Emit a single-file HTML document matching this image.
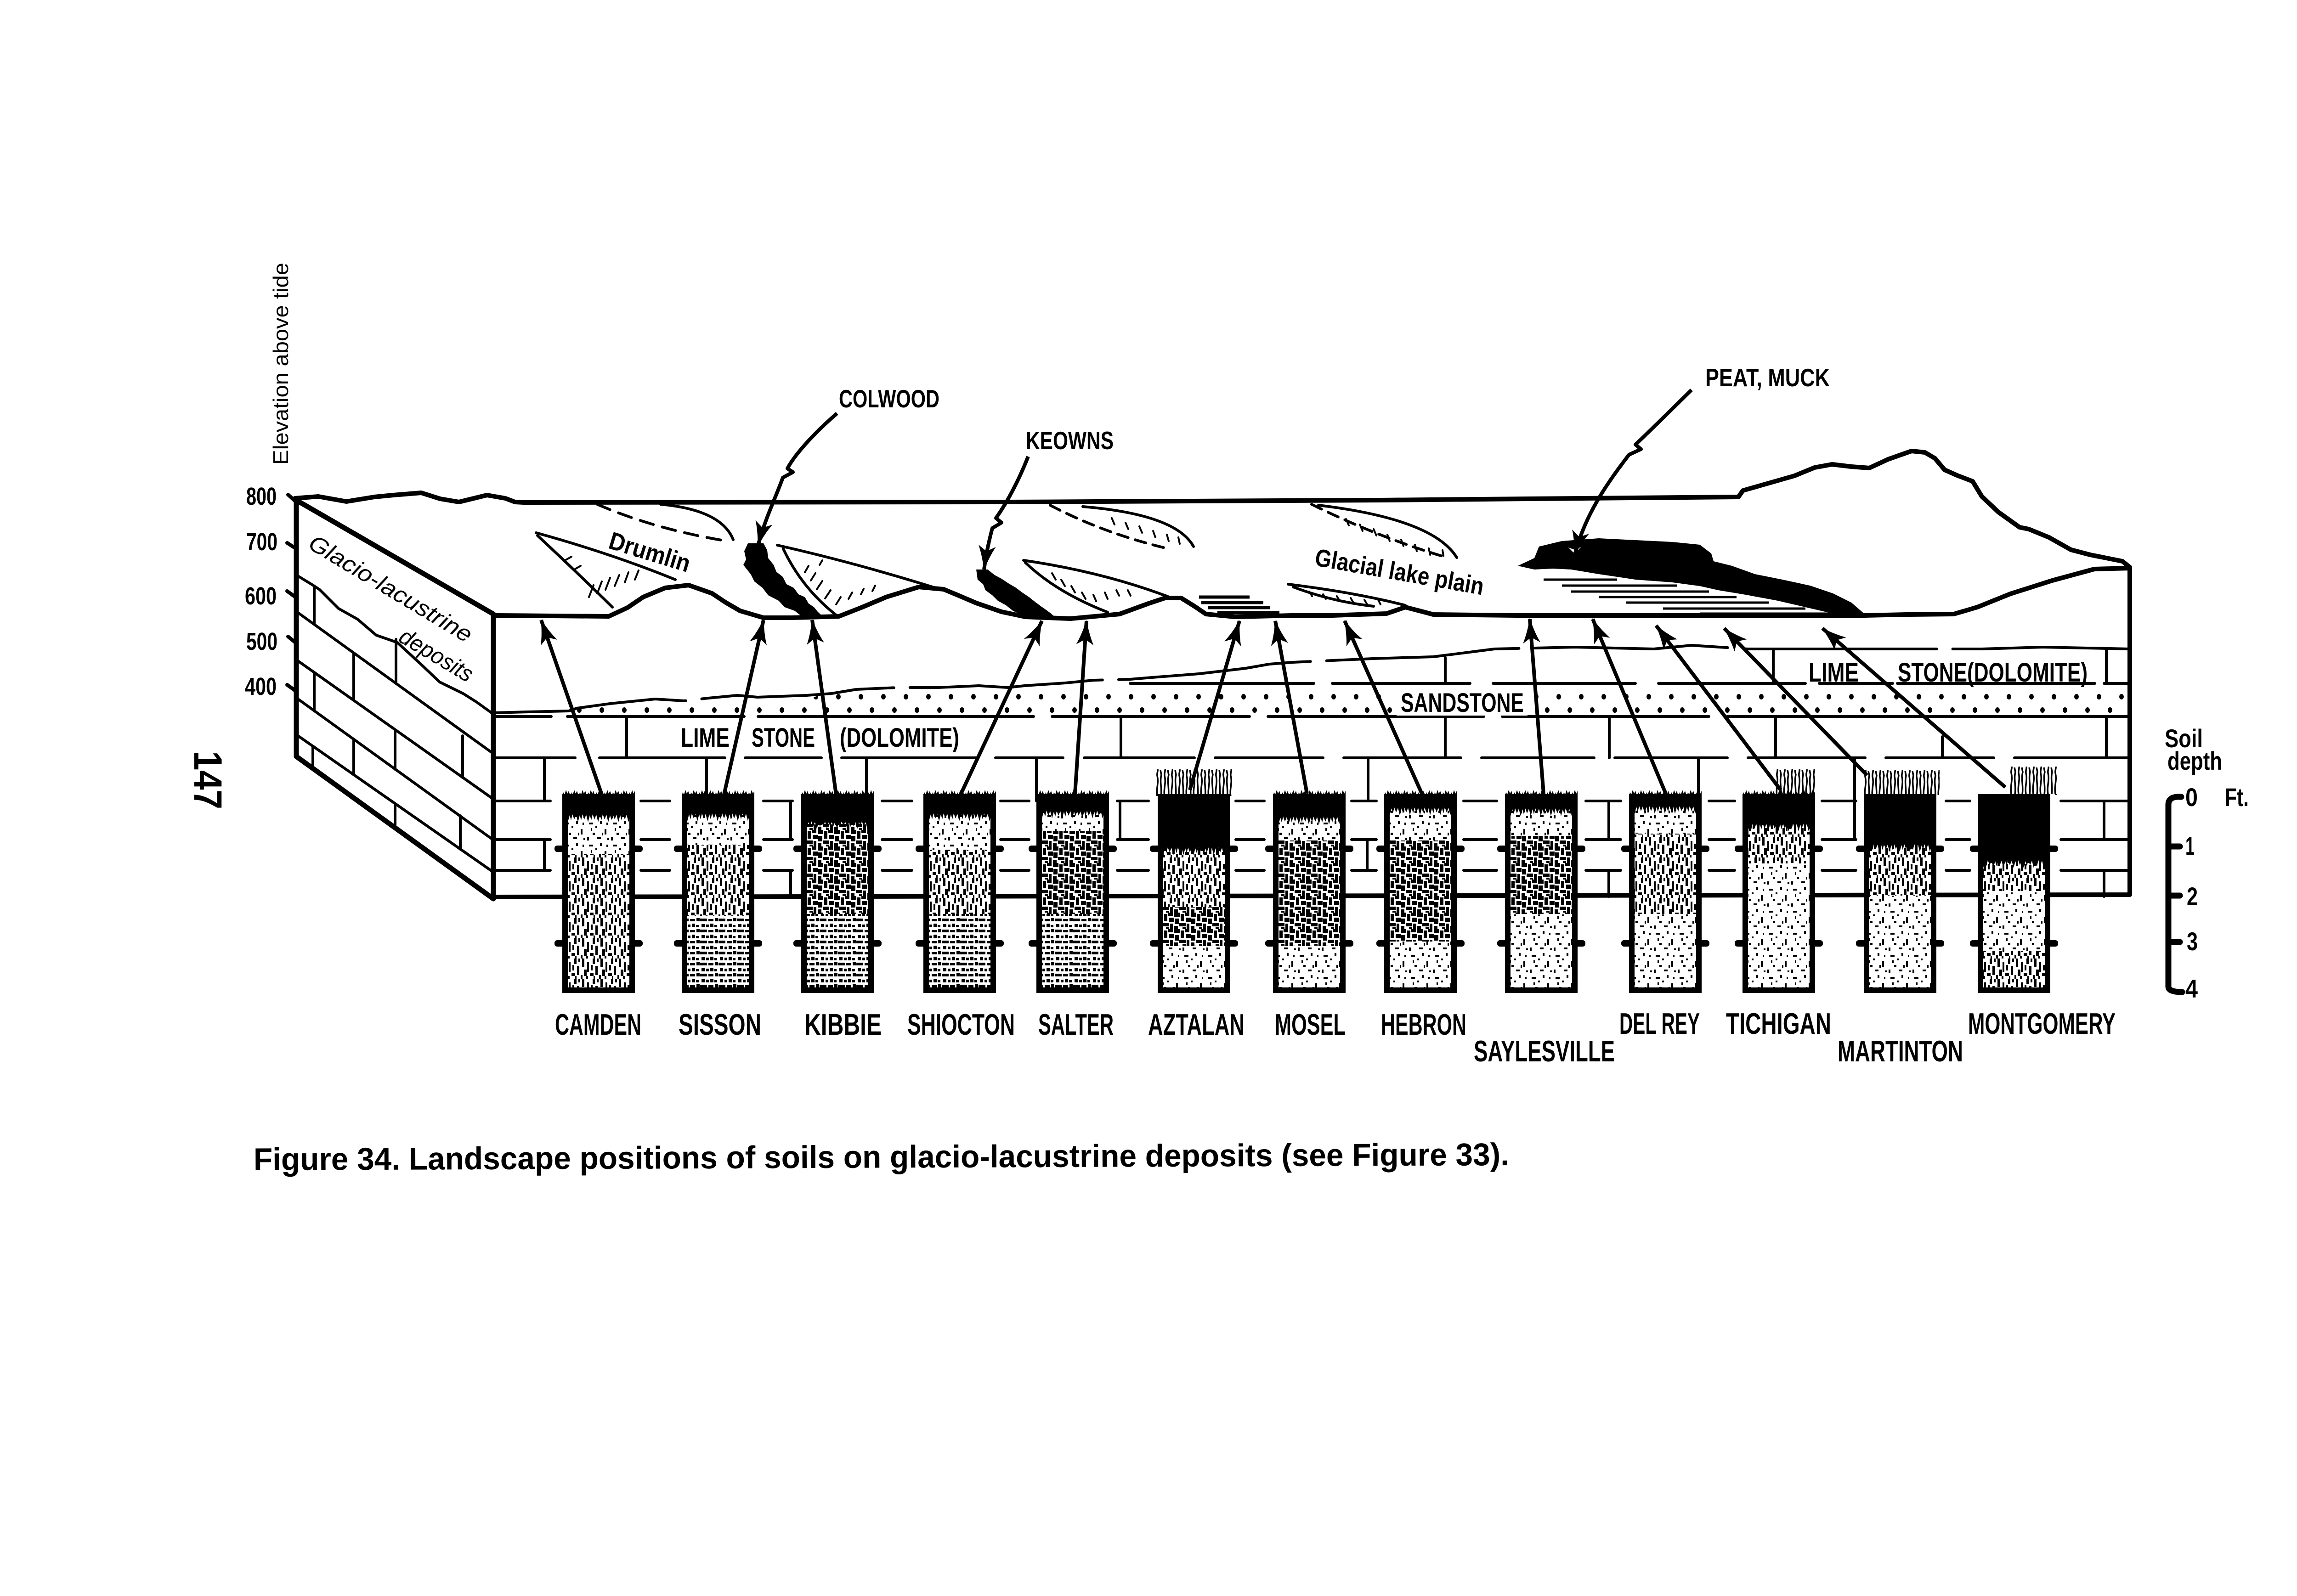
<!DOCTYPE html>
<html><head><meta charset="utf-8"><title>Figure 34</title>
<style>html,body{margin:0;padding:0;background:#fff}svg{display:block}</style>
</head><body>
<svg xmlns="http://www.w3.org/2000/svg" width="5331" height="3475" viewBox="0 0 5331 3475" font-family="'Liberation Sans', sans-serif">
<defs>
<pattern id="sp" width="52" height="48" patternUnits="userSpaceOnUse"><path d="M6 8h9v4h-9zM30 4h4v7h-4zM40 22h4v12h-4zM14 30h5v5h-5zM24 40h8v4h-8zM46 42h4v4h-4zM20 16h4v4h-4zM2 40h4v7h-4zM34 30h3v6h-3zM10 20h3v6h-3zM44 8h3v5h-3z"/></pattern>
<pattern id="md" width="40" height="44" patternUnits="userSpaceOnUse"><path d="M3 0h5v18h-5zM14 8h4v22h-4zM26 0h5v12h-5zM32 16h5v20h-5zM7 24h6v14h-6zM20 32h8v6h-8zM0 36h4v8h-4zM22 14h4v12h-4zM12 38h4v6h-4zM35 0h4v8h-4zM28 38h3v6h-3z"/></pattern>
<pattern id="dn" width="36" height="36" patternUnits="userSpaceOnUse"><path d="M0 0h12v9h-12zM14 3h7v16h-7zM23 0h10v7h-10zM25 11h11v9h-11zM1 13h9v12h-9zM11 23h14v7h-14zM27 24h6v12h-6zM0 29h8v7h-8zM18 32h7v4h-7z"/></pattern>
<pattern id="bd" width="40" height="24" patternUnits="userSpaceOnUse"><path d="M0 1h15v6h-15zM18 2h11v5h-11zM32 0h7v7h-7zM3 13h7v7h-7zM13 14h6v6h-6zM22 12h7v8h-7zM31 15h6v5h-6z"/></pattern>
<pattern id="tt" width="22" height="22" patternUnits="userSpaceOnUse"><path d="M0,0 H22 V3 L19,16 L16,5 L12,20 L8,4 L4,14 L0,3 Z"/></pattern>
<pattern id="fr" width="18" height="16" patternUnits="userSpaceOnUse"><path d="M0,16 L2,6 L5,11 L8,1 L11,9 L14,3 L18,16 Z"/></pattern>
<pattern id="gr" width="16" height="60" patternUnits="userSpaceOnUse"><path d="M3,60 C0,42 7,30 3,14 C2,8 5,4 4,0 M11,60 C14,44 8,28 12,12 L10,2" stroke="#000" stroke-width="3.5" fill="none"/></pattern>
<pattern id="dots" width="49" height="58" patternUnits="userSpaceOnUse"><ellipse cx="12" cy="12" rx="5" ry="6"/><ellipse cx="36" cy="41" rx="5" ry="6"/></pattern>
<marker id="ah" markerUnits="userSpaceOnUse" viewBox="-56 -24 62 48" markerWidth="62" markerHeight="48" refX="0" refY="0" orient="auto" overflow="visible">
<path d="M2,0 C-14,-4 -34,-10 -52,-19 L-40,0 L-52,19 C-34,10 -14,4 2,0 Z"/>
</marker>
</defs>

<!-- Elevation axis -->
<text transform="translate(627,792) rotate(-90)" text-anchor="middle" font-size="46" textLength="440" lengthAdjust="spacingAndGlyphs">Elevation above tide</text>
<g font-size="54" font-weight="bold">
<text x="536" y="1099" textLength="66" lengthAdjust="spacingAndGlyphs">800</text>
<text x="536" y="1198" textLength="68" lengthAdjust="spacingAndGlyphs">700</text>
<text x="533" y="1316" textLength="69" lengthAdjust="spacingAndGlyphs">600</text>
<text x="536" y="1415" textLength="68" lengthAdjust="spacingAndGlyphs">500</text>
<text x="533" y="1513" textLength="69" lengthAdjust="spacingAndGlyphs">400</text>
</g>
<path d="M627,1077 L648,1096 M625,1182 L645,1195 M625,1287 L643,1300 M627,1386 L643,1399 M625,1491 L643,1504" stroke="#000" stroke-width="8" stroke-linecap="round" fill="none"/>

<!-- page number -->
<text transform="translate(423,1635) rotate(90)" font-size="86" font-weight="bold" textLength="127" lengthAdjust="spacingAndGlyphs">147</text>

<!-- left face -->
<g stroke="#000" fill="none" stroke-linecap="round" stroke-linejoin="round">
<polyline stroke-width="6" points="650,1255 681,1274 696,1284 737,1325 778,1348 819,1383 865,1399 916,1446 957,1485 1008,1510 1038,1529 1074,1555"/>
<path stroke-width="6" d="M650,1335 L1074,1641 M650,1440 L1074,1740 M650,1523 L1074,1829 M650,1603 L1074,1899"/>
<path stroke-width="6" d="M684,1278 V1359 M862,1392 V1488 M770,1422 V1525 M1007,1602 V1693 M684,1464 V1548 M860,1589 V1675 M770,1610 V1687 M1002,1776 V1849 M681,1625 V1673 M860,1750 V1802"/>
<path stroke-width="11" d="M645,1089 L1074,1337 L1074,1957 L645,1647 Z"/>
</g>
<text transform="translate(668,1192) rotate(31)" font-size="50" font-style="italic" textLength="405" lengthAdjust="spacingAndGlyphs">Glacio-lacustrine</text>
<text transform="translate(865,1395) rotate(31)" font-size="50" font-style="italic" textLength="178" lengthAdjust="spacingAndGlyphs">deposits</text>

<!-- skyline / horizon / hill -->
<polyline fill="none" stroke="#000" stroke-width="10" stroke-linejoin="round" stroke-linecap="round" points="642,1085 693,1081 754,1092 815,1082 856,1078 917,1073 958,1086 999,1093 1060,1078 1100,1085 1121,1093 1140,1094 2200,1093 3000,1089 3784,1082 3794,1068 3850,1052 3906,1036 3950,1018 3988,1011 4030,1016 4069,1019 4110,1000 4161,982 4190,985 4212,998 4233,1023 4260,1035 4294,1048 4314,1081 4350,1115 4396,1148 4416,1152 4460,1170 4508,1197 4550,1208 4580,1214 4620,1222 4636,1235"/>

<!-- surface features: lenses -->
<g fill="none" stroke="#000" stroke-linecap="round">
<path stroke-width="6" d="M1167,1160 Q1330,1205 1470,1262"/>
<path stroke-width="6" d="M1170,1166 Q1260,1250 1333,1322"/>
<path stroke-width="4" d="M1282,1300 l10,-26 M1300,1292 l10,-26 M1318,1284 l10,-26 M1338,1276 l10,-24 M1360,1268 l8,-22 M1382,1262 l8,-20 M1230,1220 l14,-8 M1250,1240 l14,-8"/>
<path stroke-width="6" stroke-dasharray="30 20" d="M1300,1098 Q1420,1150 1570,1176"/>
<path stroke-width="6" d="M1438,1098 Q1570,1110 1596,1175"/>
<path stroke-width="6" d="M1692,1187 Q1860,1225 2036,1280"/>
<path stroke-width="6" d="M1705,1195 Q1745,1280 1821,1340"/>
<path stroke-width="4" d="M1760,1232 l-8,14 M1775,1248 l-10,16 M1790,1265 l-12,18 M1808,1285 l-12,18 M1830,1300 l-10,16 M1855,1290 l-8,14 M1880,1282 l-6,12 M1905,1275 l-6,12 M1790,1220 l-6,10"/>
<path stroke-width="6" d="M2228,1220 Q2400,1245 2545,1300"/>
<path stroke-width="6" d="M2232,1225 Q2300,1290 2411,1333"/>
<path stroke-width="4" d="M2290,1248 l8,14 M2310,1262 l8,14 M2332,1276 l8,14 M2355,1290 l8,14 M2380,1295 l6,14 M2405,1290 l6,14 M2430,1285 l6,12 M2455,1285 l6,12"/>
<path stroke-width="6" stroke-dasharray="24 16" d="M2286,1100 Q2400,1160 2536,1193"/>
<path stroke-width="6" d="M2357,1103 Q2560,1120 2598,1190"/>
<path stroke-width="4" d="M2420,1128 l6,14 M2450,1138 l6,14 M2480,1146 l6,14 M2510,1156 l5,14 M2540,1164 l4,14 M2565,1170 l3,14"/>
<path stroke-width="6" stroke-dasharray="24 16" d="M2855,1098 Q3000,1170 3150,1214"/>
<path stroke-width="6" d="M2870,1100 Q3120,1130 3171,1214"/>
<path stroke-width="4" d="M2930,1130 l6,14 M2960,1142 l6,14 M2990,1152 l6,14 M3020,1164 l5,14 M3050,1175 l5,14 M3080,1186 l4,14 M3110,1194 l3,14 M3140,1198 l2,12"/>
<path stroke-width="6" d="M2804,1272 Q2950,1290 3059,1318"/>
<path stroke-width="6" d="M2815,1278 Q2900,1310 2990,1320"/>
<path stroke-width="4" d="M2850,1288 l6,10 M2880,1294 l6,10 M2910,1298 l6,10 M2940,1302 l6,10 M2970,1306 l6,10 M3000,1306 l5,10"/>
</g>

<!-- dark soil areas on surface -->
<polygon points="1628,1183 1620,1200 1624,1218 1618,1230 1634,1250 1642,1266 1660,1280 1672,1296 1695,1308 1708,1322 1730,1330 1750,1346 1795,1346 1780,1332 1772,1322 1760,1314 1752,1300 1738,1294 1728,1280 1712,1272 1704,1256 1690,1245 1684,1230 1672,1215 1670,1198 1662,1183"/>
<polygon points="2125,1240 2128,1262 2140,1272 2145,1285 2160,1296 2172,1308 2190,1318 2205,1330 2222,1338 2235,1347 2300,1347 2288,1336 2280,1330 2266,1320 2255,1312 2240,1300 2225,1290 2212,1280 2195,1270 2180,1260 2165,1252 2150,1240"/>
<path d="M2610,1300 H2720 M2615,1312 H2750 M2630,1323 H2765 M2650,1334 H2785" stroke="#000" stroke-width="7" fill="none"/>
<polygon points="3304,1232 3340,1215 3350,1190 3400,1178 3480,1172 3560,1176 3640,1180 3700,1186 3725,1205 3730,1222 3770,1232 3820,1250 3880,1262 3940,1275 3990,1292 4030,1312 4060,1338 3990,1336 3930,1322 3870,1308 3800,1295 3740,1285 3700,1276 3640,1268 3560,1262 3480,1250 3420,1240 3380,1238 3340,1240"/>
<path d="M3360,1262 H3520 M3400,1275 H3650 M3420,1288 H3720 M3480,1300 H3780 M3540,1312 H3850 M3620,1325 H3930 M3700,1336 H4000" stroke="#000" stroke-width="5" fill="none"/>
<path d="M3414,1192 L3428,1206 L3442,1190 L3430,1198 Z" fill="#fff"/>

<!-- front face strata -->
<g transform="translate(0,1505)"><polygon fill="url(#dots)" points="1250,31 1430,23 1610,20 1760,17 1800,3 2050,-2 2200,-3 2320,-11 2420,-11 4630,-9 4630,52 1250,52"/></g>
<g fill="none" stroke="#000" stroke-width="6" stroke-linecap="round" stroke-linejoin="round">
<polyline stroke-dasharray="420 35" points="1075,1552 1150,1550 1238,1548 1256,1542 1328,1532 1426,1522 1489,1526 1542,1520 1605,1514 1649,1518 1756,1514 1810,1510 1864,1501 1953,1497 2042,1497 2131,1493 2194,1497 2230,1493 2319,1487 2381,1481 2460,1479 2508,1475 2610,1467 2712,1455 2763,1446 2814,1442 2988,1434 3120,1430 3253,1413 3427,1409 3600,1413 3682,1405 3804,1413 4110,1413 4314,1413 4447,1409 4636,1413"/>
<path d="M2460,1488 H2860 M2900,1488 H3200 M3250,1488 H3560 M3610,1488 H3930 M3960,1488 H4120 M4130,1488 H4560 M4580,1488 H4636"/>
<path d="M1075,1560 H1200 M1235,1560 H1620 M1650,1560 H2250 M2290,1560 H2720 M2760,1560 H3230 M3270,1560 H3720 M3760,1560 H4636"/>
<path d="M1078,1650 H1252 M1305,1650 H1578 M1622,1650 H1788 M1832,1650 H2127 M2167,1650 H2314 M2360,1650 H2600 M2645,1650 H2880 M2925,1650 H3180 M3225,1650 H3470 M3515,1650 H3760 M3805,1650 H4060 M4105,1650 H4340 M4385,1650 H4636"/>
<path d="M1080,1744 H1198 M1395,1744 H1458 M1662,1744 H1725 M1920,1744 H1985 M2178,1744 H2240 M2432,1744 H2500 M2690,1744 H2752 M2942,1744 H2996 M3186,1744 H3258 M3452,1744 H3528 M3720,1744 H3776 M3966,1744 H4040 M4236,1744 H4288 M4486,1744 H4636"/>
<path d="M1080,1828 H1198 M1395,1828 H1458 M1662,1828 H1725 M1920,1828 H1985 M2178,1828 H2240 M2432,1828 H2500 M2690,1828 H2752 M2942,1828 H2996 M3186,1828 H3258 M3452,1828 H3528 M3720,1828 H3776 M3966,1828 H4040 M4236,1828 H4288 M4486,1828 H4636"/>
<path d="M1080,1895 H1198 M1395,1895 H1458 M1662,1895 H1725 M1920,1895 H1985 M2178,1895 H2240 M2432,1895 H2500 M2690,1895 H2752 M2942,1895 H2996 M3186,1895 H3258 M3452,1895 H3528 M3720,1895 H3776 M3966,1895 H4040 M4236,1895 H4288 M4486,1895 H4636"/>
<path d="M3146,1432 V1488 M3860,1413 V1488 M4585,1413 V1488 M1364,1560 V1650 M2440,1560 V1650 M3146,1560 V1650 M3503,1560 V1650 M3865,1560 V1650 M4228,1604 V1650 M4585,1560 V1650 M1185,1650 V1744 M1538,1650 V1744 M1886,1650 V1744 M2256,1650 V1744 M2978,1650 V1744 M3697,1650 V1744 M4037,1650 V1744 M1721,1744 V1828 M2438,1744 V1828 M3502,1744 V1828 M4037,1744 V1828 M4580,1744 V1828 M1185,1828 V1895 M2976,1828 V1895 M1721,1895 V1952 M3502,1895 V1952 M4580,1895 V1952"/>
</g>

<!-- front top edge, right edge, bottom -->
<polyline fill="none" stroke="#000" stroke-width="10" stroke-linejoin="round" stroke-linecap="round" points="1074,1340 1325,1342 1366,1323 1400,1300 1448,1280 1499,1274 1550,1292 1580,1312 1611,1330 1662,1345 1723,1345 1826,1342 1877,1322 1929,1300 2000,1278 2054,1283 2090,1298 2125,1313 2180,1332 2232,1343 2330,1347 2437,1337 2500,1314 2536,1302 2571,1302 2600,1320 2625,1337 2688,1343 2814,1340 2900,1340 3018,1336 3059,1322 3090,1330 3120,1338 3300,1340 4059,1340 4151,1338 4253,1337 4304,1322 4376,1293 4467,1264 4559,1239 4636,1237 4636,1948 1074,1953"/>

<!-- labels in strata -->
<rect x="3040" y="1500" width="285" height="58" fill="#fff"/>
<g font-size="58" font-weight="bold">
<text x="3049" y="1550" textLength="268" lengthAdjust="spacingAndGlyphs">SANDSTONE</text>
<text x="1482" y="1626" textLength="106" lengthAdjust="spacingAndGlyphs">LIME</text>
<text x="1636" y="1626" textLength="138" lengthAdjust="spacingAndGlyphs">STONE</text>
<text x="1828" y="1626" textLength="260" lengthAdjust="spacingAndGlyphs">(DOLOMITE)</text>
<text x="3937" y="1484" textLength="109" lengthAdjust="spacingAndGlyphs">LIME</text>
<text x="4131" y="1484" textLength="413" lengthAdjust="spacingAndGlyphs">STONE(DOLOMITE)</text>
</g>

<!-- surface labels -->
<text transform="translate(1322,1193) rotate(17)" font-size="54" font-weight="bold" textLength="182" lengthAdjust="spacingAndGlyphs">Drumlin</text>
<text transform="translate(2860,1231) rotate(10)" font-size="54" font-weight="bold" textLength="372" lengthAdjust="spacingAndGlyphs">Glacial lake plain</text>
<g font-size="55" font-weight="bold">
<text x="1826" y="887" textLength="219" lengthAdjust="spacingAndGlyphs">COLWOOD</text>
<text x="2233" y="978" textLength="191" lengthAdjust="spacingAndGlyphs">KEOWNS</text>
<text x="3712" y="841" textLength="271" lengthAdjust="spacingAndGlyphs">PEAT, MUCK</text>
</g>

<!-- leaders -->
<g fill="none" stroke="#000" stroke-width="8" stroke-linejoin="round" marker-end="url(#ah)">
<path d="M1822,900 C1770,945 1730,990 1714,1020 L1726,1028 L1704,1040 C1690,1080 1665,1130 1650,1188"/>
<path d="M2238,994 C2220,1040 2195,1090 2168,1128 L2180,1138 L2160,1150 C2152,1180 2146,1210 2142,1240"/>
<path d="M3682,849 C3640,890 3590,940 3560,968 L3572,978 L3546,990 C3500,1050 3450,1120 3428,1208"/>
</g>

<!-- arrows from columns -->
<g stroke="#000" stroke-width="8" marker-end="url(#ah)">
<line x1="1310" y1="1730" x2="1178" y2="1350"/>
<line x1="1576" y1="1730" x2="1662" y2="1350"/>
<line x1="1820" y1="1730" x2="1768" y2="1350"/>
<line x1="2091" y1="1730" x2="2268" y2="1352"/>
<line x1="2340" y1="1728" x2="2365" y2="1352"/>
<line x1="2590" y1="1720" x2="2698" y2="1352"/>
<line x1="2845" y1="1728" x2="2776" y2="1352"/>
<line x1="3095" y1="1728" x2="2927" y2="1352"/>
<line x1="3360" y1="1728" x2="3330" y2="1348"/>
<line x1="3626" y1="1728" x2="3467" y2="1348"/>
<line x1="3876" y1="1720" x2="3605" y2="1362"/>
<line x1="4064" y1="1688" x2="3753" y2="1368"/>
<line x1="4365" y1="1714" x2="3967" y2="1368"/>
</g>

<!-- soil columns -->
<!-- CAMDEN -->
<g transform="translate(1224,1735)">
<rect x="6" y="0" width="146" height="427" fill="#fff"/>
<rect x="6" y="35" width="146" height="90" fill="url(#sp)"/>
<rect x="6" y="125" width="146" height="296" fill="url(#md)"/>
<rect x="0" y="-4" width="158" height="39"/>
<g transform="translate(0,35)"><rect x="6" y="0" width="146" height="22" fill="url(#tt)"/></g>
<rect x="0" y="-16" width="158" height="14" fill="url(#fr)"/>
<rect x="6" y="0" width="146" height="421" fill="none" stroke="#000" stroke-width="12"/>
<rect x="-17" y="106" width="24" height="14" rx="6"/><rect x="151" y="106" width="24" height="14" rx="6"/>
<rect x="-17" y="312" width="24" height="14" rx="6"/><rect x="151" y="312" width="24" height="14" rx="6"/>
</g>
<!-- SISSON -->
<g transform="translate(1484,1735)">
<rect x="6" y="0" width="146" height="427" fill="#fff"/>
<rect x="6" y="33" width="146" height="72" fill="url(#sp)"/>
<rect x="6" y="105" width="146" height="155" fill="url(#md)"/>
<rect x="6" y="260" width="146" height="161" fill="url(#bd)"/>
<rect x="0" y="-4" width="158" height="37"/>
<g transform="translate(0,33)"><rect x="6" y="0" width="146" height="22" fill="url(#tt)"/></g>
<rect x="0" y="-16" width="158" height="14" fill="url(#fr)"/>
<rect x="6" y="0" width="146" height="421" fill="none" stroke="#000" stroke-width="12"/>
<rect x="-17" y="106" width="24" height="14" rx="6"/><rect x="151" y="106" width="24" height="14" rx="6"/>
<rect x="-17" y="312" width="24" height="14" rx="6"/><rect x="151" y="312" width="24" height="14" rx="6"/>
</g>
<!-- KIBBIE -->
<g transform="translate(1744,1735)">
<rect x="6" y="0" width="146" height="427" fill="#fff"/>
<rect x="6" y="50" width="146" height="205" fill="url(#dn)"/>
<rect x="6" y="255" width="146" height="166" fill="url(#bd)"/>
<rect x="0" y="-4" width="158" height="54"/>
<g transform="translate(0,50)"><rect x="6" y="0" width="146" height="22" fill="url(#tt)"/></g>
<rect x="0" y="-16" width="158" height="14" fill="url(#fr)"/>
<rect x="6" y="0" width="146" height="421" fill="none" stroke="#000" stroke-width="12"/>
<rect x="-17" y="106" width="24" height="14" rx="6"/><rect x="151" y="106" width="24" height="14" rx="6"/>
<rect x="-17" y="312" width="24" height="14" rx="6"/><rect x="151" y="312" width="24" height="14" rx="6"/>
</g>
<!-- SHIOCTON -->
<g transform="translate(2010,1735)">
<rect x="6" y="0" width="146" height="427" fill="#fff"/>
<rect x="6" y="33" width="146" height="82" fill="url(#sp)"/>
<rect x="6" y="115" width="146" height="140" fill="url(#md)"/>
<rect x="6" y="255" width="146" height="166" fill="url(#bd)"/>
<rect x="0" y="-4" width="158" height="37"/>
<g transform="translate(0,33)"><rect x="6" y="0" width="146" height="22" fill="url(#tt)"/></g>
<rect x="0" y="-16" width="158" height="14" fill="url(#fr)"/>
<rect x="6" y="0" width="146" height="421" fill="none" stroke="#000" stroke-width="12"/>
<rect x="-17" y="106" width="24" height="14" rx="6"/><rect x="151" y="106" width="24" height="14" rx="6"/>
<rect x="-17" y="312" width="24" height="14" rx="6"/><rect x="151" y="312" width="24" height="14" rx="6"/>
</g>
<!-- SALTER -->
<g transform="translate(2256,1735)">
<rect x="6" y="0" width="146" height="427" fill="#fff"/>
<rect x="6" y="27" width="146" height="48" fill="url(#sp)"/>
<rect x="6" y="75" width="146" height="180" fill="url(#dn)"/>
<rect x="6" y="255" width="146" height="166" fill="url(#bd)"/>
<rect x="0" y="-4" width="158" height="31"/>
<g transform="translate(0,27)"><rect x="6" y="0" width="146" height="22" fill="url(#tt)"/></g>
<rect x="0" y="-16" width="158" height="14" fill="url(#fr)"/>
<rect x="6" y="0" width="146" height="421" fill="none" stroke="#000" stroke-width="12"/>
<rect x="-17" y="106" width="24" height="14" rx="6"/><rect x="151" y="106" width="24" height="14" rx="6"/>
<rect x="-17" y="312" width="24" height="14" rx="6"/><rect x="151" y="312" width="24" height="14" rx="6"/>
</g>
<!-- AZTALAN -->
<g transform="translate(2520,1735)">
<rect x="6" y="0" width="146" height="427" fill="#fff"/>
<rect x="6" y="107" width="146" height="133" fill="url(#md)"/>
<rect x="6" y="240" width="146" height="85" fill="url(#dn)"/>
<rect x="6" y="325" width="146" height="96" fill="url(#sp)"/>
<rect x="0" y="-4" width="158" height="111"/>
<g transform="translate(0,107)"><rect x="6" y="0" width="146" height="22" fill="url(#tt)"/></g>
<g transform="translate(-4,-60)"><rect x="0" y="0" width="166" height="58" fill="url(#gr)"/></g>
<rect x="6" y="0" width="146" height="421" fill="none" stroke="#000" stroke-width="12"/>
<rect x="-17" y="106" width="24" height="14" rx="6"/><rect x="151" y="106" width="24" height="14" rx="6"/>
<rect x="-17" y="312" width="24" height="14" rx="6"/><rect x="151" y="312" width="24" height="14" rx="6"/>
</g>
<!-- MOSEL -->
<g transform="translate(2771,1735)">
<rect x="6" y="0" width="146" height="427" fill="#fff"/>
<rect x="6" y="40" width="146" height="55" fill="url(#sp)"/>
<rect x="6" y="95" width="146" height="230" fill="url(#dn)"/>
<rect x="6" y="325" width="146" height="96" fill="url(#sp)"/>
<rect x="0" y="-4" width="158" height="44"/>
<g transform="translate(0,40)"><rect x="6" y="0" width="146" height="22" fill="url(#tt)"/></g>
<rect x="0" y="-16" width="158" height="14" fill="url(#fr)"/>
<rect x="6" y="0" width="146" height="421" fill="none" stroke="#000" stroke-width="12"/>
<rect x="-17" y="106" width="24" height="14" rx="6"/><rect x="151" y="106" width="24" height="14" rx="6"/>
<rect x="-17" y="312" width="24" height="14" rx="6"/><rect x="151" y="312" width="24" height="14" rx="6"/>
</g>
<!-- HEBRON -->
<g transform="translate(3013,1735)">
<rect x="6" y="0" width="146" height="427" fill="#fff"/>
<rect x="6" y="20" width="146" height="75" fill="url(#sp)"/>
<rect x="6" y="95" width="146" height="220" fill="url(#dn)"/>
<rect x="6" y="315" width="146" height="106" fill="url(#sp)"/>
<rect x="0" y="-4" width="158" height="24"/>
<g transform="translate(0,20)"><rect x="6" y="0" width="146" height="22" fill="url(#tt)"/></g>
<rect x="0" y="-16" width="158" height="14" fill="url(#fr)"/>
<rect x="6" y="0" width="146" height="421" fill="none" stroke="#000" stroke-width="12"/>
<rect x="-17" y="106" width="24" height="14" rx="6"/><rect x="151" y="106" width="24" height="14" rx="6"/>
<rect x="-17" y="312" width="24" height="14" rx="6"/><rect x="151" y="312" width="24" height="14" rx="6"/>
</g>
<!-- SAYLESVILLE -->
<g transform="translate(3276,1735)">
<rect x="6" y="0" width="146" height="427" fill="#fff"/>
<rect x="6" y="22" width="146" height="63" fill="url(#sp)"/>
<rect x="6" y="85" width="146" height="170" fill="url(#dn)"/>
<rect x="6" y="255" width="146" height="166" fill="url(#sp)"/>
<rect x="0" y="-4" width="158" height="26"/>
<g transform="translate(0,22)"><rect x="6" y="0" width="146" height="22" fill="url(#tt)"/></g>
<rect x="0" y="-16" width="158" height="14" fill="url(#fr)"/>
<rect x="6" y="0" width="146" height="421" fill="none" stroke="#000" stroke-width="12"/>
<rect x="-17" y="106" width="24" height="14" rx="6"/><rect x="151" y="106" width="24" height="14" rx="6"/>
<rect x="-17" y="312" width="24" height="14" rx="6"/><rect x="151" y="312" width="24" height="14" rx="6"/>
</g>
<!-- DEL REY -->
<g transform="translate(3546,1735)">
<rect x="6" y="0" width="146" height="427" fill="#fff"/>
<rect x="6" y="17" width="146" height="63" fill="url(#sp)"/>
<rect x="6" y="80" width="146" height="175" fill="url(#md)"/>
<rect x="6" y="255" width="146" height="166" fill="url(#sp)"/>
<rect x="0" y="-4" width="158" height="21"/>
<g transform="translate(0,17)"><rect x="6" y="0" width="146" height="22" fill="url(#tt)"/></g>
<rect x="0" y="-16" width="158" height="14" fill="url(#fr)"/>
<rect x="6" y="0" width="146" height="421" fill="none" stroke="#000" stroke-width="12"/>
<rect x="-17" y="106" width="24" height="14" rx="6"/><rect x="151" y="106" width="24" height="14" rx="6"/>
<rect x="-17" y="312" width="24" height="14" rx="6"/><rect x="151" y="312" width="24" height="14" rx="6"/>
</g>
<!-- TICHIGAN -->
<g transform="translate(3793,1735)">
<rect x="6" y="0" width="146" height="427" fill="#fff"/>
<rect x="6" y="55" width="146" height="90" fill="url(#md)"/>
<rect x="6" y="145" width="146" height="276" fill="url(#sp)"/>
<rect x="0" y="-4" width="158" height="59"/>
<g transform="translate(0,55)"><rect x="6" y="0" width="146" height="22" fill="url(#tt)"/></g>
<rect x="0" y="-16" width="158" height="14" fill="url(#fr)"/>
<g transform="translate(72,-60)"><rect x="0" y="0" width="88" height="54" fill="url(#gr)"/></g>
<rect x="6" y="0" width="146" height="421" fill="none" stroke="#000" stroke-width="12"/>
<rect x="-17" y="106" width="24" height="14" rx="6"/><rect x="151" y="106" width="24" height="14" rx="6"/>
<rect x="-17" y="312" width="24" height="14" rx="6"/><rect x="151" y="312" width="24" height="14" rx="6"/>
</g>
<!-- MARTINTON -->
<g transform="translate(4057,1735)">
<rect x="6" y="0" width="146" height="427" fill="#fff"/>
<rect x="6" y="100" width="146" height="115" fill="url(#md)"/>
<rect x="6" y="215" width="146" height="206" fill="url(#sp)"/>
<rect x="0" y="-4" width="158" height="104"/>
<g transform="translate(0,100)"><rect x="6" y="0" width="146" height="22" fill="url(#tt)"/></g>
<g transform="translate(0,-58)"><rect x="0" y="0" width="165" height="54" fill="url(#gr)"/></g>
<rect x="6" y="0" width="146" height="421" fill="none" stroke="#000" stroke-width="12"/>
<rect x="-17" y="106" width="24" height="14" rx="6"/><rect x="151" y="106" width="24" height="14" rx="6"/>
<rect x="-17" y="312" width="24" height="14" rx="6"/><rect x="151" y="312" width="24" height="14" rx="6"/>
</g>
<!-- MONTGOMERY -->
<g transform="translate(4305,1735)">
<rect x="6" y="0" width="146" height="427" fill="#fff"/>
<rect x="6" y="135" width="146" height="70" fill="url(#md)"/>
<rect x="6" y="205" width="146" height="130" fill="url(#sp)"/>
<rect x="6" y="335" width="146" height="86" fill="url(#md)"/>
<rect x="0" y="-4" width="158" height="139"/>
<g transform="translate(0,135)"><rect x="6" y="0" width="146" height="22" fill="url(#tt)"/></g>
<g transform="translate(70,-66)"><rect x="0" y="0" width="103" height="62" fill="url(#gr)"/></g>
<rect x="6" y="0" width="146" height="421" fill="none" stroke="#000" stroke-width="12"/>
<rect x="-17" y="106" width="24" height="14" rx="6"/><rect x="151" y="106" width="24" height="14" rx="6"/>
<rect x="-17" y="312" width="24" height="14" rx="6"/><rect x="151" y="312" width="24" height="14" rx="6"/>
</g>

<!-- column labels -->
<g font-size="65" font-weight="bold">
<text x="1208" y="2253" textLength="188" lengthAdjust="spacingAndGlyphs">CAMDEN</text>
<text x="1477" y="2253" textLength="180" lengthAdjust="spacingAndGlyphs">SISSON</text>
<text x="1751" y="2253" textLength="168" lengthAdjust="spacingAndGlyphs">KIBBIE</text>
<text x="1975" y="2253" textLength="234" lengthAdjust="spacingAndGlyphs">SHIOCTON</text>
<text x="2260" y="2253" textLength="164" lengthAdjust="spacingAndGlyphs">SALTER</text>
<text x="2499" y="2253" textLength="210" lengthAdjust="spacingAndGlyphs">AZTALAN</text>
<text x="2775" y="2253" textLength="154" lengthAdjust="spacingAndGlyphs">MOSEL</text>
<text x="3006" y="2253" textLength="186" lengthAdjust="spacingAndGlyphs">HEBRON</text>
<text x="3525" y="2251" textLength="175" lengthAdjust="spacingAndGlyphs">DEL REY</text>
<text x="3757" y="2251" textLength="229" lengthAdjust="spacingAndGlyphs">TICHIGAN</text>
<text x="4284" y="2251" textLength="321" lengthAdjust="spacingAndGlyphs">MONTGOMERY</text>
<text x="3208" y="2311" textLength="307" lengthAdjust="spacingAndGlyphs">SAYLESVILLE</text>
<text x="4000" y="2311" textLength="273" lengthAdjust="spacingAndGlyphs">MARTINTON</text>
</g>

<!-- soil depth scale -->
<text x="4712" y="1627" font-size="56" font-weight="bold" textLength="83" lengthAdjust="spacingAndGlyphs">Soil</text>
<text x="4718" y="1676" font-size="56" font-weight="bold" textLength="119" lengthAdjust="spacingAndGlyphs">depth</text>
<path d="M4748,1735 Q4720,1733 4720,1752 L4720,2148 Q4720,2160 4750,2160 M4720,1843 H4745 M4720,1950 H4745 M4720,2051 H4745" fill="none" stroke="#000" stroke-width="13" stroke-linecap="round"/>
<g font-size="56" font-weight="bold">
<text x="4757" y="1755" textLength="27" lengthAdjust="spacingAndGlyphs">0</text>
<text x="4843" y="1755" textLength="52" lengthAdjust="spacingAndGlyphs">Ft.</text>
<text x="4757" y="1861" textLength="20" lengthAdjust="spacingAndGlyphs">1</text>
<text x="4760" y="1971" textLength="24" lengthAdjust="spacingAndGlyphs">2</text>
<text x="4760" y="2069" textLength="24" lengthAdjust="spacingAndGlyphs">3</text>
<text x="4757" y="2172" textLength="27" lengthAdjust="spacingAndGlyphs">4</text>
</g>

<!-- caption -->
<text transform="rotate(-0.23 552 2548)" x="552" y="2548" font-size="69" font-weight="bold" textLength="2733" lengthAdjust="spacingAndGlyphs">Figure 34. Landscape positions of soils on glacio-lacustrine deposits (see Figure 33).</text>
</svg>
</body></html>
